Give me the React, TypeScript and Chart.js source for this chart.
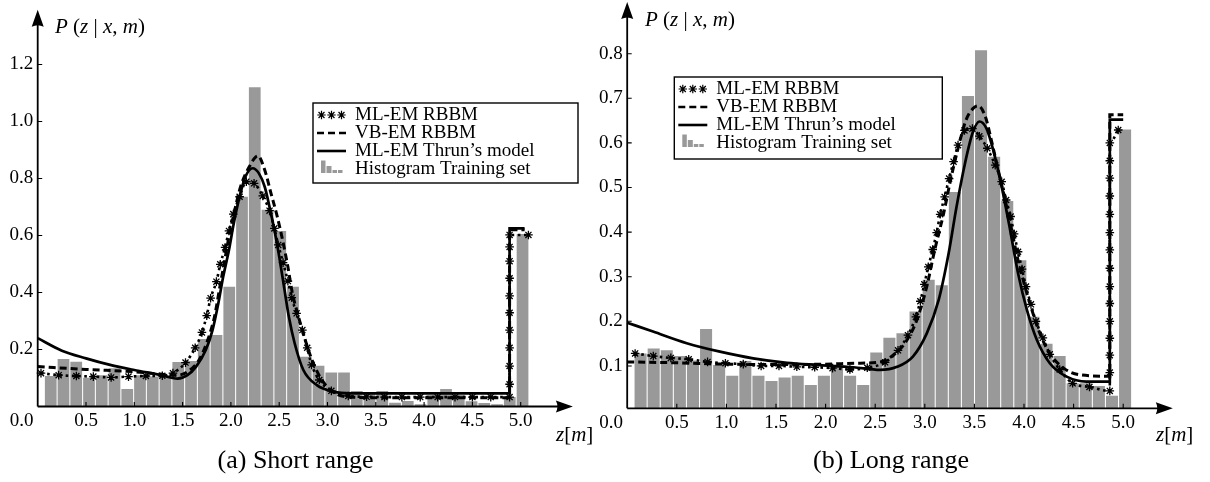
import { useEffect, useRef } from 'react';
import { Chart, registerables } from 'chart.js';

Chart.register(...registerables);

type Pt = [number, number];

const SERIF = '"Liberation Serif", "Times New Roman", serif';
const BAR_GREY = '#999999';

// Histogram bins shared by both training sets (metres)
const BIN_FIRST_CENTER = 0.135;
const BIN_WIDTH = 0.132;

// Short range training set histogram
const histShort = [
  0.107, 0.167, 0.157, 0.101, 0.11, 0.134, 0.061, 0.11, 0.105, 0.11,
  0.156, 0.16, 0.237, 0.251, 0.42, 0.736, 1.12, 0.69, 0.616, 0.42,
  0.175, 0.143, 0.119, 0.119, 0.054, 0.045, 0.054, 0.013, 0.019, 0.008,
  0.04, 0.061, 0.04, 0.018, 0.012, 0.008, 0.033, 0.605,
];

// Long range training set histogram
const histLong = [
  0.128, 0.139, 0.135, 0.122, 0.112, 0.183, 0.102, 0.078, 0.111, 0.078,
  0.066, 0.074, 0.078, 0.057, 0.078, 0.1, 0.078, 0.057, 0.13, 0.163,
  0.173, 0.222, 0.293, 0.281, 0.49, 0.705, 0.808, 0.569, 0.47, 0.337,
  0.21, 0.15, 0.122, 0.061, 0.061, 0.055, 0.033, 0.63,
];

// ML-EM RBBM, short range (one marker per sample)
const mlemShort: Pt[] = [
  [0.034, 0.117], [0.217, 0.11], [0.4, 0.107], [0.576, 0.105], [0.76, 0.102],
  [0.94, 0.105], [1.12, 0.107], [1.29, 0.108], [1.4, 0.117], [1.53, 0.154],
  [1.63, 0.206], [1.7, 0.26], [1.75, 0.319], [1.79, 0.38], [1.85, 0.438],
  [1.89, 0.499], [1.94, 0.558], [1.98, 0.616], [2.025, 0.675], [2.09, 0.736],
  [2.16, 0.789], [2.24, 0.783], [2.33, 0.739], [2.4, 0.687], [2.45, 0.625],
  [2.49, 0.567], [2.54, 0.505], [2.59, 0.44], [2.63, 0.382], [2.68, 0.327],
  [2.74, 0.268], [2.79, 0.206], [2.836, 0.146], [2.915, 0.093], [3.04, 0.055],
  [3.215, 0.037], [3.405, 0.034], [3.59, 0.033], [3.77, 0.033], [3.96, 0.033],
  [4.14, 0.033], [4.32, 0.033], [4.5, 0.033], [4.69, 0.033], [4.885, 0.033],
  [4.885, 0.078], [4.885, 0.142], [4.885, 0.206], [4.885, 0.268], [4.885, 0.329],
  [4.885, 0.388], [4.885, 0.45], [4.885, 0.51], [4.885, 0.56], [4.885, 0.602],
  [5.08, 0.602],
];

// VB-EM RBBM, short range
const vbemShort: Pt[] = [
  [0, 0.14], [0.5, 0.13], [1.0, 0.122], [1.45, 0.11], [1.55, 0.122],
  [1.67, 0.163], [1.76, 0.233], [1.83, 0.315], [1.88, 0.409], [1.93, 0.502],
  [1.98, 0.596], [2.04, 0.689], [2.1, 0.771], [2.19, 0.841], [2.28, 0.879],
  [2.35, 0.83], [2.415, 0.748], [2.48, 0.666], [2.535, 0.584], [2.59, 0.49],
  [2.635, 0.4], [2.7, 0.315], [2.77, 0.233], [2.84, 0.163], [2.92, 0.105],
  [3.03, 0.058], [3.2, 0.034], [3.5, 0.031], [4.885, 0.031], [4.885, 0.62],
  [5.04, 0.62],
];

// ML-EM Thrun's model, short range
const thrunShort: Pt[] = [
  [0, 0.24], [0.25, 0.196], [0.5, 0.169], [0.75, 0.146], [1.0, 0.128],
  [1.25, 0.112], [1.45, 0.098], [1.55, 0.11], [1.64, 0.14], [1.74, 0.198],
  [1.81, 0.268], [1.87, 0.362], [1.92, 0.455], [1.98, 0.549], [2.03, 0.643],
  [2.09, 0.736], [2.15, 0.806], [2.225, 0.836], [2.29, 0.818], [2.35, 0.771],
  [2.4, 0.7], [2.45, 0.62], [2.5, 0.526], [2.55, 0.42], [2.6, 0.315],
  [2.66, 0.222], [2.75, 0.128], [2.89, 0.075], [3.06, 0.052], [3.25, 0.046],
  [4.885, 0.046], [4.885, 0.625], [5.04, 0.625],
];

// ML-EM RBBM, long range (one marker per sample)
const mlemLong: Pt[] = [
  [0.08, 0.128], [0.263, 0.122], [0.44, 0.118], [0.62, 0.115], [0.81, 0.109],
  [0.99, 0.106], [1.17, 0.104], [1.35, 0.1], [1.53, 0.1], [1.71, 0.098],
  [1.89, 0.097], [2.07, 0.095], [2.245, 0.092], [2.42, 0.096], [2.6, 0.108],
  [2.73, 0.135], [2.83, 0.169], [2.91, 0.21], [2.955, 0.245], [2.995, 0.283],
  [3.035, 0.322], [3.08, 0.361], [3.12, 0.399], [3.155, 0.44], [3.2, 0.479],
  [3.245, 0.52], [3.29, 0.558], [3.335, 0.595], [3.4, 0.628], [3.48, 0.632],
  [3.55, 0.615], [3.63, 0.588], [3.71, 0.55], [3.775, 0.513], [3.82, 0.472],
  [3.865, 0.435], [3.9, 0.396], [3.94, 0.356], [3.98, 0.317], [4.02, 0.278],
  [4.07, 0.238], [4.12, 0.2], [4.19, 0.163], [4.26, 0.126], [4.36, 0.092],
  [4.49, 0.061], [4.66, 0.053], [4.865, 0.044], [4.865, 0.085], [4.865, 0.124],
  [4.865, 0.162], [4.865, 0.2], [4.865, 0.24], [4.865, 0.278], [4.865, 0.319],
  [4.865, 0.36], [4.865, 0.399], [4.865, 0.44], [4.865, 0.481], [4.865, 0.521],
  [4.865, 0.56], [4.865, 0.6], [4.95, 0.629],
];

// VB-EM RBBM, long range
const vbemLong: Pt[] = [
  [0, 0.109], [0.5, 0.107], [1.0, 0.104], [1.5, 0.103], [2.0, 0.104],
  [2.3, 0.106], [2.55, 0.109], [2.68, 0.124], [2.8, 0.151], [2.92, 0.203],
  [3.02, 0.278], [3.1, 0.36], [3.19, 0.442], [3.26, 0.517], [3.34, 0.592],
  [3.415, 0.651], [3.49, 0.678], [3.54, 0.683], [3.61, 0.659], [3.67, 0.607],
  [3.74, 0.539], [3.81, 0.472], [3.875, 0.405], [3.94, 0.337], [4.01, 0.278],
  [4.08, 0.225], [4.16, 0.173], [4.26, 0.128], [4.4, 0.095], [4.565, 0.08],
  [4.865, 0.077], [4.865, 0.663], [5.0, 0.663],
];

// ML-EM Thrun's model, long range
const thrunLong: Pt[] = [
  [0, 0.197], [0.26, 0.177], [0.6, 0.151], [0.935, 0.132], [1.27, 0.117],
  [1.61, 0.107], [1.94, 0.102], [2.28, 0.097], [2.55, 0.091], [2.72, 0.098],
  [2.88, 0.121], [3.02, 0.173], [3.14, 0.248], [3.24, 0.352], [3.32, 0.457],
  [3.405, 0.554], [3.48, 0.621], [3.55, 0.648], [3.62, 0.633], [3.69, 0.584],
  [3.775, 0.502], [3.86, 0.405], [3.94, 0.308], [4.03, 0.225], [4.13, 0.158],
  [4.26, 0.106], [4.43, 0.076], [4.63, 0.065], [4.865, 0.065], [4.865, 0.652],
  [5.0, 0.652],
];

const xTickValues = [0, 0.5, 1.0, 1.5, 2.0, 2.5, 3.0, 3.5, 4.0, 4.5, 5.0];
const yTicksShort = [0.2, 0.4, 0.6, 0.8, 1.0, 1.2];
const yTicksLong = [0.1, 0.2, 0.3, 0.4, 0.5, 0.6, 0.7, 0.8];

const legendLabels = ['ML-EM RBBM', 'VB-EM RBBM', 'ML-EM Thrun\u2019s model', 'Histogram Training set'];

interface PanelSpec {
  hist: number[];
  mlem: Pt[];
  vbem: Pt[];
  thrun: Pt[];
  left: number;
  width: number;
  padding: { left: number; right: number; top: number; bottom: number };
  yMin: number;
  yMax: number;
  yTicks: number[];
  xArrowTip: number;
  yArrowTip: number;
  legend: { x: number; y: number; w: number; h: number };
}

const shortPanel: PanelSpec = {
  hist: histShort, mlem: mlemShort, vbem: vbemShort, thrun: thrunShort,
  left: 0, width: 595,
  padding: { left: 37.7, right: 26, top: 36, bottom: 75.5 },
  yMin: 0, yMax: 1.3, yTicks: yTicksShort,
  xArrowTip: 5.54, yArrowTip: 1.392,
  legend: { x: 313, y: 103, w: 265, h: 80 },
};

const longPanel: PanelSpec = {
  hist: histLong, mlem: mlemLong, vbem: vbemLong, thrun: thrunLong,
  left: 595, width: 615,
  padding: { left: 32.2, right: 37.2, top: 9.1, bottom: 73.7 },
  yMin: 0.005, yMax: 0.9, yTicks: yTicksLong,
  xArrowTip: 5.5, yArrowTip: 0.916,
  legend: { x: 79.3, y: 77, w: 268, h: 82 },
};

function drawAsterisk(ctx: CanvasRenderingContext2D, cx: number, cy: number, r: number) {
  ctx.beginPath();
  for (let k = 0; k < 4; k++) {
    const a = (k * Math.PI) / 4;
    ctx.moveTo(cx + r * Math.cos(a), cy + r * Math.sin(a));
    ctx.lineTo(cx - r * Math.cos(a), cy - r * Math.sin(a));
  }
  ctx.stroke();
}

function arrowHead(ctx: CanvasRenderingContext2D, tx: number, ty: number, dir: 'up' | 'right') {
  const len = 17;
  const half = 6;
  const notch = 3;
  ctx.beginPath();
  if (dir === 'right') {
    ctx.moveTo(tx, ty);
    ctx.lineTo(tx - len, ty - half);
    ctx.quadraticCurveTo(tx - len + notch, ty, tx - len, ty + half);
  } else {
    ctx.moveTo(tx, ty);
    ctx.lineTo(tx - half, ty + len);
    ctx.quadraticCurveTo(tx, ty + len - notch, tx + half, ty + len);
  }
  ctx.closePath();
  ctx.fill();
}

function panelDecor(spec: PanelSpec) {
  return {
    id: 'panelDecor',
    afterDatasetsDraw(chart: any) {
      const { ctx, chartArea } = chart;
      const xs = chart.scales.x;
      const ys = chart.scales.y;
      const ox = xs.getPixelForValue(0);
      const oy = chartArea.bottom;
      const xTip = xs.getPixelForValue(spec.xArrowTip);
      const yTip = ys.getPixelForValue(spec.yArrowTip);
      ctx.save();
      ctx.strokeStyle = '#000';
      ctx.fillStyle = '#000';
      ctx.lineCap = 'butt';

      // axis lines with arrow heads
      ctx.lineWidth = 1.8;
      ctx.beginPath();
      ctx.moveTo(ox, oy);
      ctx.lineTo(xTip - 12, oy);
      ctx.moveTo(ox, oy);
      ctx.lineTo(ox, yTip + 12);
      ctx.stroke();
      arrowHead(ctx, xTip, oy, 'right');
      arrowHead(ctx, ox, yTip, 'up');

      // inward tick marks
      ctx.lineWidth = 1.1;
      ctx.beginPath();
      xTickValues.forEach((v) => {
        if (v === 0) return;
        const px = xs.getPixelForValue(v);
        ctx.moveTo(px, oy);
        ctx.lineTo(px, oy - 4.5);
      });
      spec.yTicks.forEach((v) => {
        const py = ys.getPixelForValue(v);
        ctx.moveTo(ox, py);
        ctx.lineTo(ox + 4.5, py);
      });
      ctx.stroke();

      // tick labels
      ctx.font = `19px ${SERIF}`;
      ctx.textBaseline = 'middle';
      ctx.textAlign = 'center';
      xTickValues.forEach((v) => {
        const px = xs.getPixelForValue(v) + (v === 0 ? -16 : 0);
        ctx.fillText(v.toFixed(1), px, oy + 15);
      });
      ctx.textAlign = 'right';
      spec.yTicks.forEach((v) => {
        ctx.fillText(v.toFixed(1), ox - 4.5, ys.getPixelForValue(v));
      });
      ctx.restore();
    },
    afterDraw(chart: any) {
      const { ctx } = chart;
      const { x, y, w, h } = spec.legend;
      ctx.save();
      ctx.fillStyle = '#fff';
      ctx.fillRect(x, y, w, h);
      ctx.strokeStyle = '#000';
      ctx.lineWidth = 1.4;
      ctx.strokeRect(x, y, w, h);

      const sx = x + 4;
      const rows = legendLabels.map((_, i) => y + 12 + 18 * i);

      // ML-EM RBBM: three asterisks
      ctx.lineWidth = 1.2;
      [4.5, 14.5, 24.5].forEach((dx) => drawAsterisk(ctx, sx + dx, rows[0], 4.2));

      // VB-EM RBBM: dashes
      ctx.lineWidth = 2.6;
      ctx.beginPath();
      [[0, 7], [11, 18], [22, 29]].forEach(([a, b]) => {
        ctx.moveTo(sx + a, rows[1]);
        ctx.lineTo(sx + b, rows[1]);
      });
      ctx.stroke();

      // ML-EM Thrun's model: solid
      ctx.beginPath();
      ctx.moveTo(sx, rows[2]);
      ctx.lineTo(sx + 29, rows[2]);
      ctx.stroke();

      // Histogram: small bar glyph
      ctx.fillStyle = BAR_GREY;
      const base = rows[3] + 4;
      ctx.fillRect(sx + 4, base - 12.5, 4.5, 12.5);
      ctx.fillRect(sx + 9.5, base - 7, 5, 7);
      ctx.fillRect(sx + 15.5, base - 3, 4.5, 3);
      ctx.fillRect(sx + 21, base - 3, 4.5, 3);

      ctx.fillStyle = '#000';
      ctx.font = `19px ${SERIF}`;
      ctx.textAlign = 'left';
      ctx.textBaseline = 'middle';
      legendLabels.forEach((t, i) => ctx.fillText(t, x + 42, rows[i] + 0.5));
      ctx.restore();
    },
  };
}

function buildChart(canvas: HTMLCanvasElement, spec: PanelSpec) {
  const pts = (list: Pt[]) => list.map(([x, y]) => ({ x, y }));
  return new Chart(canvas, {
    type: 'bar',
    data: {
      datasets: [
        {
          type: 'line',
          label: legendLabels[0],
          data: pts(spec.mlem),
          borderColor: '#000',
          borderWidth: 2.6,
          borderDash: [2.6, 3.6],
          pointStyle: 'star',
          pointRadius: 4.3,
          pointBorderWidth: 1.3,
          pointBorderColor: '#000',
          pointBackgroundColor: '#000',
          cubicInterpolationMode: 'monotone',
          clip: false,
          order: 0,
        },
        {
          type: 'line',
          label: legendLabels[1],
          data: pts(spec.vbem),
          borderColor: '#000',
          borderWidth: 3,
          borderDash: [7, 4],
          pointRadius: 0,
          cubicInterpolationMode: 'monotone',
          clip: false,
          order: 1,
        },
        {
          type: 'line',
          label: legendLabels[2],
          data: pts(spec.thrun),
          borderColor: '#000',
          borderWidth: 2.7,
          pointRadius: 0,
          cubicInterpolationMode: 'monotone',
          clip: false,
          order: 2,
        },
        {
          type: 'bar',
          label: legendLabels[3],
          data: spec.hist.map((y, i) => ({ x: BIN_FIRST_CENTER + i * BIN_WIDTH, y })),
          backgroundColor: BAR_GREY,
          borderWidth: 0,
          barPercentage: 0.92,
          categoryPercentage: 1,
          order: 3,
        },
      ],
    } as any,
    options: {
      animation: false,
      responsive: false,
      maintainAspectRatio: false,
      devicePixelRatio: 1,
      events: [],
      layout: { padding: spec.padding },
      scales: {
        x: { type: 'linear', min: 0, max: 5.5, offset: false, display: false },
        y: { type: 'linear', min: spec.yMin, max: spec.yMax, display: false },
      },
      plugins: { legend: { display: false }, tooltip: { enabled: false } },
    } as any,
    plugins: [panelDecor(spec) as any],
  });
}

const mathStyle: any = {
  position: 'absolute',
  fontFamily: SERIF,
  fontSize: 21,
  lineHeight: '21px',
  whiteSpace: 'nowrap',
  color: '#000',
};

function ProbLabel({ left, top }: { left: number; top: number }) {
  return (
    <div style={{ ...mathStyle, left, top }}>
      <i>P</i> (<i>z</i> | <i>x</i>, <i>m</i>)
    </div>
  );
}

function RangeLabel({ left, top }: { left: number; top: number }) {
  return (
    <div style={{ ...mathStyle, left, top }}>
      <i>z</i>[<i>m</i>]
    </div>
  );
}

function Caption({ center, text }: { center: number; text: string }) {
  return (
    <div
      style={{
        position: 'absolute',
        left: center - 150,
        width: 300,
        top: 447,
        textAlign: 'center',
        fontFamily: SERIF,
        fontSize: 26,
        lineHeight: '26px',
        color: '#000',
        whiteSpace: 'nowrap',
      }}
    >
      {text}
    </div>
  );
}

export default function App() {
  const shortRef = useRef<HTMLCanvasElement>(null);
  const longRef = useRef<HTMLCanvasElement>(null);

  useEffect(() => {
    const charts: Chart[] = [];
    if (shortRef.current) charts.push(buildChart(shortRef.current, shortPanel));
    if (longRef.current) charts.push(buildChart(longRef.current, longPanel));
    return () => charts.forEach((c) => c.destroy());
  }, []);

  return (
    <div style={{ position: 'absolute', left: 0, top: 0, width: 1210, height: 482, background: '#fff', overflow: 'hidden' }}>
      <canvas
        ref={shortRef}
        width={shortPanel.width}
        height={482}
        style={{ position: 'absolute', left: shortPanel.left, top: 0, width: shortPanel.width, height: 482 }}
      />
      <canvas
        ref={longRef}
        width={longPanel.width}
        height={482}
        style={{ position: 'absolute', left: longPanel.left, top: 0, width: longPanel.width, height: 482 }}
      />
      <ProbLabel left={55} top={16} />
      <ProbLabel left={645} top={8.5} />
      <RangeLabel left={556} top={424} />
      <RangeLabel left={1156} top={424} />
      <Caption center={295.5} text="(a) Short range" />
      <Caption center={891} text="(b) Long range" />
    </div>
  );
}
